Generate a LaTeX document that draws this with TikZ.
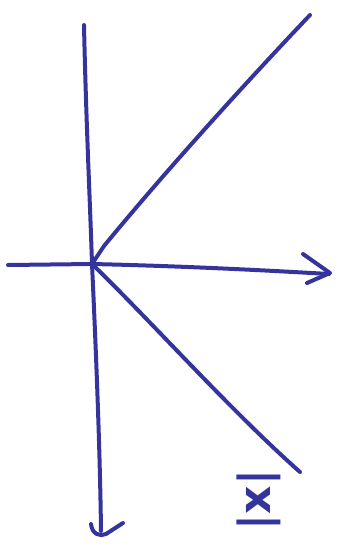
\documentclass[tikz,border=0pt]{standalone}
\usepackage{fontspec}
\setmainfont{DejaVu Sans}
\definecolor{ink}{RGB}{52,52,156}
\begin{document}
\begin{tikzpicture}[x=1pt,y=-1pt,
  stroke/.style={draw=ink,line width=4pt,line cap=round,line join=round}]
\useasboundingbox (0,0) rectangle (338,552);
\coordinate (o) at (92,264);
\coordinate (vtop) at (84,25);
\coordinate (vbot) at (101,531);
\coordinate (hleft) at (8,265);
\coordinate (hright) at (329,274);
\coordinate (up) at (310,15);
\coordinate (down) at (300,472);
% vertical axis
\path[stroke] (vtop) .. controls (86,120) and (90,200) .. (o) .. controls (96,350) and (100,450) .. (vbot);
% downward arrow head
\path[stroke] (91,524) .. controls (92,534) and (100,537) .. (106,534) -- (123,523);
% horizontal axis
\path[stroke] (hleft) -- (o) .. controls (180,266) and (260,270) .. (hright);
% right arrow head
\path[stroke] (303,254) -- (330,273) -- (307,283);
% upper ray
\path[stroke] (o) -- (104,246) .. controls (150,190) and (220,110) .. (up);
% lower ray
\path[stroke] (o) .. controls (150,320) and (230,410) .. (down);
% label
\node[ink,rotate=90,font=\fontsize{44}{44}\selectfont\bfseries] (lbl) at (259,500) {|x|};
\end{tikzpicture}
\end{document}
